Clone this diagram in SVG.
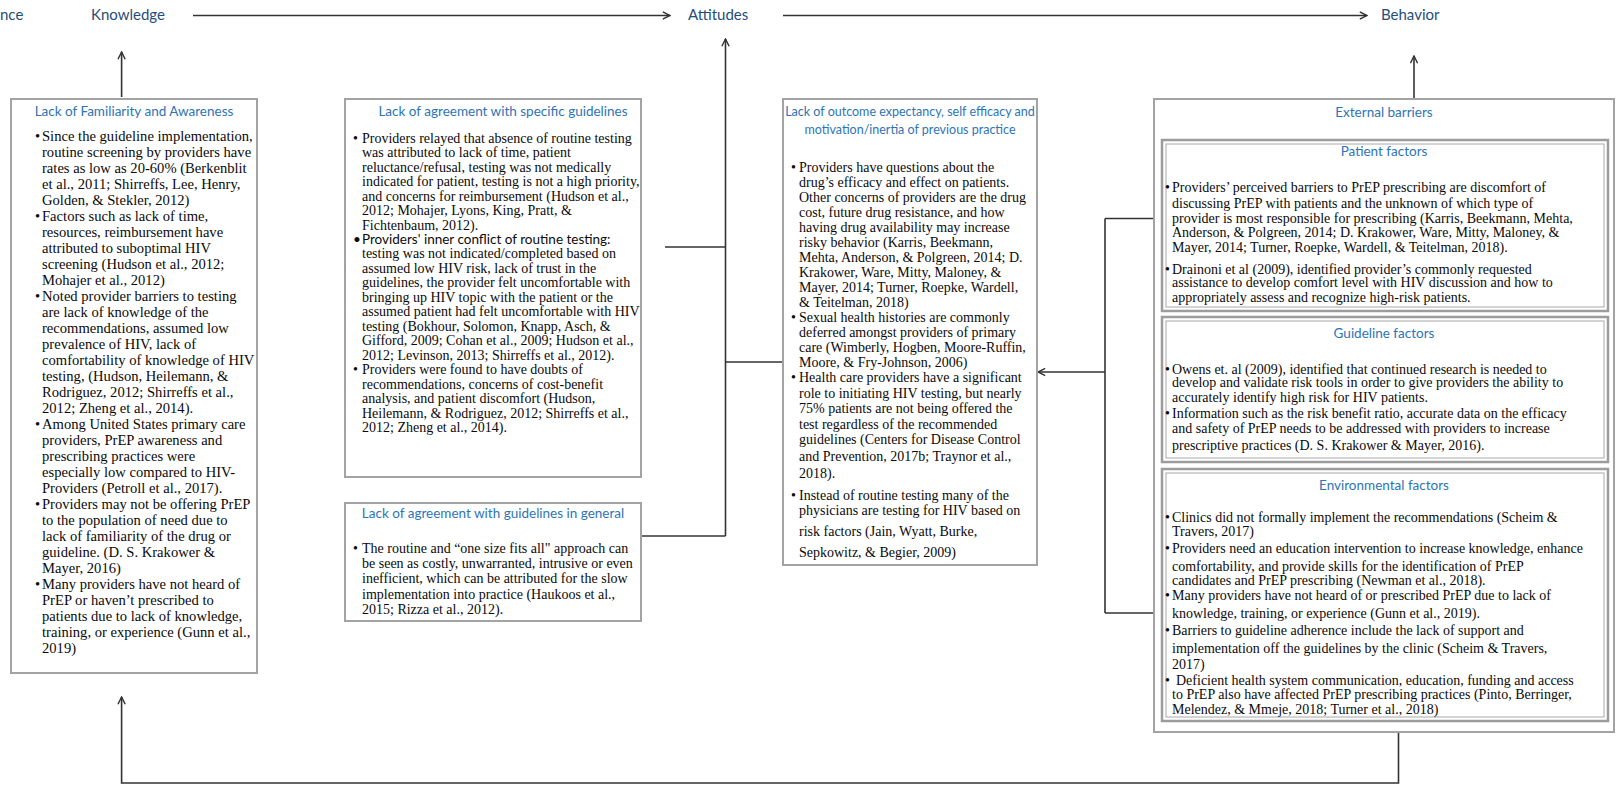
<svg xmlns="http://www.w3.org/2000/svg" width="1616" height="787" viewBox="0 0 1616 787">
<defs>
<style>
.bg{fill:#ffffff}
.box{fill:#ffffff;stroke:#a3a3a3;stroke-width:2}
.dbo{fill:none;stroke:#9c9c9c;stroke-width:2.5}
.dbi{fill:none;stroke:#a8a8a8;stroke-width:1}
.t{font-family:"Liberation Serif","Times New Roman",serif;font-size:14px;fill:#0a0a0a}
.t1{font-family:"Liberation Serif","Times New Roman",serif;font-size:14.6px;fill:#0a0a0a}
.s{font-family:Lato,"Liberation Sans",sans-serif;font-size:13.5px;fill:#0a0a0a}
.h{font-family:Lato,"Liberation Sans",sans-serif;font-size:13.5px;fill:#2E74B5;text-anchor:middle}
.h4{font-family:Lato,"Liberation Sans",sans-serif;font-size:12.5px;fill:#2E74B5;text-anchor:middle}
.lbl{font-family:Lato,"Liberation Sans",sans-serif;font-size:15px;fill:#1F4E79}
.c{fill:none;stroke:#333333;stroke-width:1.6}
</style>
<marker id="ah" viewBox="0 0 10 10" refX="9" refY="5" markerWidth="9" markerHeight="9" markerUnits="userSpaceOnUse" orient="auto">
<path d="M1,1 L9,5 L1,9" fill="none" stroke="#333333" stroke-width="1.6"/>
</marker>
</defs>
<rect class="bg" x="0" y="0" width="1616" height="787"/>

<g id="connectors">
<line class="c" x1="193" y1="15.5" x2="670" y2="15.5" marker-end="url(#ah)"/>
<line class="c" x1="783" y1="15.5" x2="1367" y2="15.5" marker-end="url(#ah)"/>
<line class="c" x1="121.6" y1="97" x2="121.6" y2="52" marker-end="url(#ah)"/>
<line class="c" x1="725.5" y1="536" x2="725.5" y2="39" marker-end="url(#ah)"/>
<line class="c" x1="665" y1="247" x2="725.5" y2="247"/>
<line class="c" x1="641" y1="536" x2="725.5" y2="536"/>
<line class="c" x1="725.5" y1="362" x2="783" y2="362"/>
<line class="c" x1="1105" y1="218.5" x2="1105" y2="613"/>
<line class="c" x1="1105" y1="218.5" x2="1154" y2="218.5"/>
<line class="c" x1="1105" y1="613" x2="1154" y2="613"/>
<line class="c" x1="1105" y1="372" x2="1038" y2="372" marker-end="url(#ah)"/>
<line class="c" x1="1414" y1="98" x2="1414" y2="56" marker-end="url(#ah)"/>
<polyline class="c" points="1398.5,732 1398.5,783 121.6,783 121.6,697" marker-end="url(#ah)"/>
</g>

<g id="label-experience"><text class="lbl" x="0" y="20">nce</text></g>
<g id="label-knowledge"><text class="lbl" x="91" y="20">Knowledge</text></g>
<g id="label-attitudes"><text class="lbl" x="688" y="20">Attitudes</text></g>
<g id="label-behavior"><text class="lbl" x="1381" y="20">Behavior</text></g>

<g id="box-familiarity">
<rect class="box" x="11" y="99" width="246" height="574"/>
<text class="h" x="134" y="116">Lack of Familiarity and Awareness</text>
<text class="t1"><tspan x="35" y="140.5">•</tspan><tspan x="35" y="220.5">•</tspan><tspan x="35" y="300.5">•</tspan><tspan x="35" y="428.5">•</tspan><tspan x="35" y="508.5">•</tspan><tspan x="35" y="588.5">•</tspan></text>
<text class="t1">
<tspan x="42" y="140.5">Since the guideline implementation,</tspan>
<tspan x="42" y="156.5">routine screening by providers have</tspan>
<tspan x="42" y="172.5">rates as low as 20-60% (Berkenblit</tspan>
<tspan x="42" y="188.5">et al., 2011; Shirreffs, Lee, Henry,</tspan>
<tspan x="42" y="204.5">Golden, &amp; Stekler, 2012)</tspan>
<tspan x="42" y="220.5">Factors such as lack of time,</tspan>
<tspan x="42" y="236.5">resources, reimbursement have</tspan>
<tspan x="42" y="252.5">attributed to suboptimal HIV</tspan>
<tspan x="42" y="268.5">screening (Hudson et al., 2012;</tspan>
<tspan x="42" y="284.5">Mohajer et al., 2012)</tspan>
<tspan x="42" y="300.5">Noted provider barriers to testing</tspan>
<tspan x="42" y="316.5">are lack of knowledge of the</tspan>
<tspan x="42" y="332.5">recommendations, assumed low</tspan>
<tspan x="42" y="348.5">prevalence of HIV, lack of</tspan>
<tspan x="42" y="364.5">comfortability of knowledge of HIV</tspan>
<tspan x="42" y="380.5">testing, (Hudson, Heilemann, &amp;</tspan>
<tspan x="42" y="396.5">Rodriguez, 2012; Shirreffs et al.,</tspan>
<tspan x="42" y="412.5">2012; Zheng et al., 2014).</tspan>
<tspan x="42" y="428.5">Among United States primary care</tspan>
<tspan x="42" y="444.5">providers, PrEP awareness and</tspan>
<tspan x="42" y="460.5">prescribing practices were</tspan>
<tspan x="42" y="476.5">especially low compared to HIV-</tspan>
<tspan x="42" y="492.5">Providers (Petroll et al., 2017).</tspan>
<tspan x="42" y="508.5">Providers may not be offering PrEP</tspan>
<tspan x="42" y="524.5">to the population of need due to</tspan>
<tspan x="42" y="540.5">lack of familiarity of the drug or</tspan>
<tspan x="42" y="556.5">guideline. (D. S. Krakower &amp;</tspan>
<tspan x="42" y="572.5">Mayer, 2016)</tspan>
<tspan x="42" y="588.5">Many providers have not heard of</tspan>
<tspan x="42" y="604.5">PrEP or haven’t prescribed to</tspan>
<tspan x="42" y="620.5">patients due to lack of knowledge,</tspan>
<tspan x="42" y="636.5">training, or experience (Gunn et al.,</tspan>
<tspan x="42" y="652.5">2019)</tspan>
</text>
</g>

<g id="box-specific-guidelines">
<rect class="box" x="345" y="99" width="296" height="378"/>
<text class="h" x="503" y="116">Lack of agreement with specific guidelines</text>
<text class="t"><tspan x="353" y="142.6">•</tspan><tspan x="353" y="374.3">•</tspan></text>
<text class="s"><tspan x="353" y="244">•</tspan></text>
<text class="t">
<tspan x="362" y="142.6">Providers relayed that absence of routine testing</tspan>
<tspan x="362" y="157.1">was attributed to lack of time, patient</tspan>
<tspan x="362" y="171.6">reluctance/refusal, testing was not medically</tspan>
<tspan x="362" y="186.0">indicated for patient, testing is not a high priority,</tspan>
<tspan x="362" y="200.5">and concerns for reimbursement (Hudson et al.,</tspan>
<tspan x="362" y="215.0">2012; Mohajer, Lyons, King, Pratt, &amp;</tspan>
<tspan x="362" y="229.5">Fichtenbaum, 2012).</tspan>
</text>
<text class="s"><tspan x="362" y="244.0">Providers' inner conflict of routine testing:</tspan></text>
<text class="t">
<tspan x="362" y="258.4">testing was not indicated/completed based on</tspan>
<tspan x="362" y="272.9">assumed low HIV risk, lack of trust in the</tspan>
<tspan x="362" y="287.4">guidelines, the provider felt uncomfortable with</tspan>
<tspan x="362" y="301.9">bringing up HIV topic with the patient or the</tspan>
<tspan x="362" y="316.4">assumed patient had felt uncomfortable with HIV</tspan>
<tspan x="362" y="330.8">testing (Bokhour, Solomon, Knapp, Asch, &amp;</tspan>
<tspan x="362" y="345.3">Gifford, 2009; Cohan et al., 2009; Hudson et al.,</tspan>
<tspan x="362" y="359.8">2012; Levinson, 2013; Shirreffs et al., 2012).</tspan>
<tspan x="362" y="374.3">Providers were found to have doubts of</tspan>
<tspan x="362" y="388.8">recommendations, concerns of cost-benefit</tspan>
<tspan x="362" y="403.2">analysis, and patient discomfort (Hudson,</tspan>
<tspan x="362" y="417.7">Heilemann, &amp; Rodriguez, 2012; Shirreffs et al.,</tspan>
<tspan x="362" y="432.2">2012; Zheng et al., 2014).</tspan>
</text>
</g>

<g id="box-guidelines-general">
<rect class="box" x="345" y="503" width="296" height="118"/>
<text class="h" x="493" y="518">Lack of agreement with guidelines in general</text>
<text class="t"><tspan x="353" y="553">•</tspan></text>
<text class="t">
<tspan x="362" y="553">The routine and “one size fits all" approach can</tspan>
<tspan x="362" y="568">be seen as costly, unwarranted, intrusive or even</tspan>
<tspan x="362" y="583">inefficient, which can be attributed for the slow</tspan>
<tspan x="362" y="598.5">implementation into practice (Haukoos et al.,</tspan>
<tspan x="362" y="613.5">2015; Rizza et al., 2012).</tspan>
</text>
</g>

<g id="box-outcome-expectancy">
<rect class="box" x="783" y="99" width="254" height="466"/>
<text class="h4" x="910" y="116">Lack of outcome expectancy, self efficacy and</text>
<text class="h4" x="910" y="134">motivation/inertia of previous practice</text>
<text class="t"><tspan x="791" y="171.5">•</tspan><tspan x="791" y="322">•</tspan><tspan x="791" y="382">•</tspan><tspan x="791" y="500">•</tspan></text>
<text class="t">
<tspan x="799" y="171.5">Providers have questions about the</tspan>
<tspan x="799" y="186.5">drug’s efficacy and effect on patients.</tspan>
<tspan x="799" y="201.5">Other concerns of providers are the drug</tspan>
<tspan x="799" y="216.5">cost, future drug resistance, and how</tspan>
<tspan x="799" y="231.5">having drug availability may increase</tspan>
<tspan x="799" y="246.5">risky behavior (Karris, Beekmann,</tspan>
<tspan x="799" y="261.5">Mehta, Anderson, &amp; Polgreen, 2014; D.</tspan>
<tspan x="799" y="276.5">Krakower, Ware, Mitty, Maloney, &amp;</tspan>
<tspan x="799" y="291.5">Mayer, 2014; Turner, Roepke, Wardell,</tspan>
<tspan x="799" y="306.5">&amp; Teitelman, 2018)</tspan>
<tspan x="799" y="322">Sexual health histories are commonly</tspan>
<tspan x="799" y="337">deferred amongst providers of primary</tspan>
<tspan x="799" y="352">care (Wimberly, Hogben, Moore-Ruffin,</tspan>
<tspan x="799" y="367">Moore, &amp; Fry-Johnson, 2006)</tspan>
<tspan x="799" y="382">Health care providers have a significant</tspan>
<tspan x="799" y="397.5">role to initiating HIV testing, but nearly</tspan>
<tspan x="799" y="413">75% patients are not being offered the</tspan>
<tspan x="799" y="428.5">test regardless of the recommended</tspan>
<tspan x="799" y="444">guidelines (Centers for Disease Control</tspan>
<tspan x="799" y="461">and Prevention, 2017b; Traynor et al.,</tspan>
<tspan x="799" y="478">2018).</tspan>
<tspan x="799" y="500">Instead of routine testing many of the</tspan>
<tspan x="799" y="515">physicians are testing for HIV based on</tspan>
<tspan x="799" y="536">risk factors  (Jain, Wyatt, Burke,</tspan>
<tspan x="799" y="557">Sepkowitz, &amp; Begier, 2009)</tspan>
</text>
</g>

<g id="box-external-barriers">
<rect class="box" x="1154" y="99" width="460" height="633"/>
<text class="h" x="1384" y="117">External barriers</text>
</g>

<g id="box-patient-factors">
<rect class="dbo" x="1162" y="140" width="446" height="171"/>
<rect class="dbi" x="1166" y="144" width="438" height="163"/>
<text class="h" x="1384" y="156">Patient factors</text>
<text class="t"><tspan x="1165" y="192">•</tspan><tspan x="1165" y="273.5">•</tspan></text>
<text class="t">
<tspan x="1172" y="192">Providers’ perceived barriers to PrEP prescribing are discomfort of</tspan>
<tspan x="1172" y="207.5">discussing PrEP with patients and the unknown of which type of</tspan>
<tspan x="1172" y="223">provider is most responsible for prescribing (Karris, Beekmann, Mehta,</tspan>
<tspan x="1172" y="237.4">Anderson, &amp; Polgreen, 2014; D. Krakower, Ware, Mitty, Maloney, &amp;</tspan>
<tspan x="1172" y="251.8">Mayer, 2014; Turner, Roepke, Wardell, &amp; Teitelman, 2018).</tspan>
<tspan x="1172" y="273.5">Drainoni et al (2009), identified provider’s commonly requested</tspan>
<tspan x="1172" y="286.9">assistance to develop comfort level with HIV discussion and how to</tspan>
<tspan x="1172" y="302.3">appropriately assess and recognize high-risk patients.</tspan>
</text>
</g>

<g id="box-guideline-factors">
<rect class="dbo" x="1162" y="317" width="446" height="145"/>
<rect class="dbi" x="1166" y="321" width="438" height="137"/>
<text class="h" x="1384" y="338">Guideline factors</text>
<text class="t"><tspan x="1165" y="373.5">•</tspan><tspan x="1165" y="417.8">•</tspan></text>
<text class="t">
<tspan x="1172" y="373.5">Owens et. al (2009), identified that continued research is needed to</tspan>
<tspan x="1172" y="386.9">develop and validate risk tools in order to give providers the ability to</tspan>
<tspan x="1172" y="402.3">accurately identify high risk for HIV patients.</tspan>
<tspan x="1172" y="417.8">Information such as the risk benefit ratio, accurate data on the efficacy</tspan>
<tspan x="1172" y="433.2">and safety of PrEP needs to be addressed with providers to increase</tspan>
<tspan x="1172" y="449.7">prescriptive practices (D. S. Krakower &amp; Mayer, 2016).</tspan>
</text>
</g>

<g id="box-environmental-factors">
<rect class="dbo" x="1162" y="469" width="446" height="252"/>
<rect class="dbi" x="1166" y="473" width="438" height="244"/>
<text class="h" x="1384" y="490">Environmental factors</text>
<text class="t"><tspan x="1165" y="522">•</tspan><tspan x="1165" y="553">•</tspan><tspan x="1165" y="599.5">•</tspan><tspan x="1165" y="634.5">•</tspan><tspan x="1165" y="684.5">•</tspan></text>
<text class="t">
<tspan x="1172" y="522">Clinics did not formally implement the recommendations (Scheim &amp;</tspan>
<tspan x="1172" y="535.5">Travers, 2017)</tspan>
<tspan x="1172" y="553">Providers need an education intervention to increase knowledge, enhance</tspan>
<tspan x="1172" y="570.5">comfortability, and provide skills for the identification of PrEP</tspan>
<tspan x="1172" y="585">candidates and PrEP prescribing (Newman et al., 2018).</tspan>
<tspan x="1172" y="599.5">Many providers have not heard of or prescribed PrEP due to lack of</tspan>
<tspan x="1172" y="617.5">knowledge, training, or experience (Gunn et al., 2019).</tspan>
<tspan x="1172" y="634.5">Barriers to guideline adherence include the lack of support and</tspan>
<tspan x="1172" y="652.5">implementation off the guidelines by the clinic (Scheim &amp; Travers,</tspan>
<tspan x="1172" y="669">2017)</tspan>
<tspan x="1176" y="684.5">Deficient health system communication, education, funding and access</tspan>
<tspan x="1172" y="698.5">to PrEP also have affected PrEP prescribing practices (Pinto, Berringer,</tspan>
<tspan x="1172" y="713.5">Melendez, &amp; Mmeje, 2018; Turner et al., 2018)</tspan>
</text>
</g>
</svg>
